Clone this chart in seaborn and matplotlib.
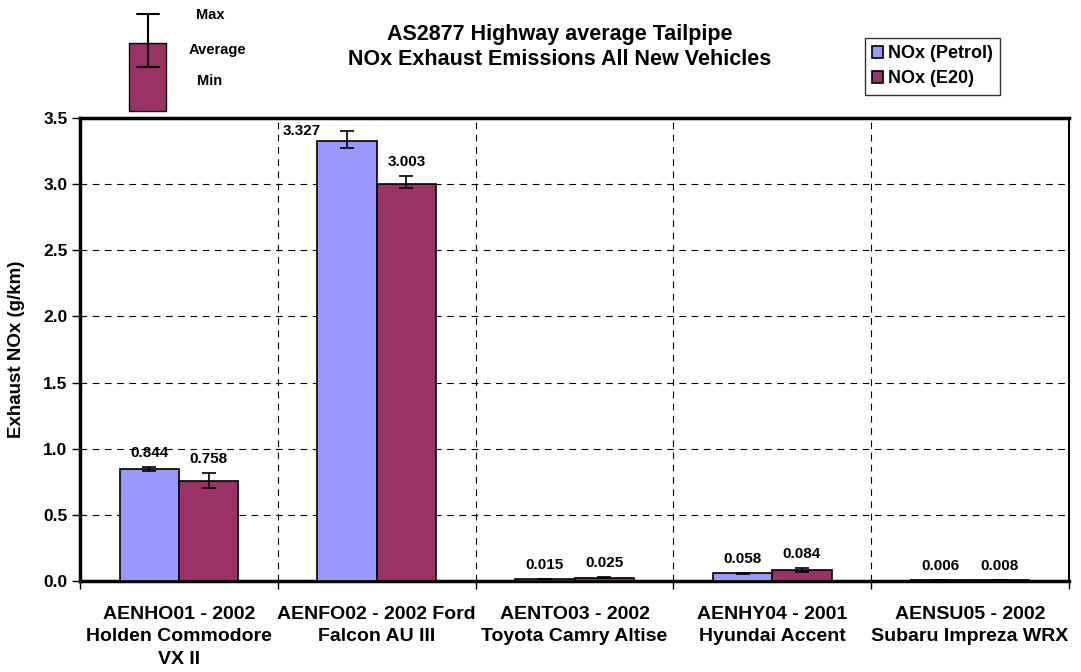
import numpy as np
import pandas as pd
import matplotlib.pyplot as plt
import seaborn as sns
from matplotlib.patches import Rectangle

# data
vehicles = ['AENHO01 - 2002\nHolden Commodore\nVX II',
            'AENFO02 - 2002 Ford\nFalcon AU III',
            'AENTO03 - 2002\nToyota Camry Altise',
            'AENHY04 - 2001\nHyundai Accent',
            'AENSU05 - 2002\nSubaru Impreza WRX']
fuels = ['NOx (Petrol)', 'NOx (E20)']
petrol_avg = [0.844, 3.327, 0.015, 0.058, 0.006]
petrol_min = [0.828, 3.275, 0.012, 0.054, 0.005]
petrol_max = [0.863, 3.404, 0.018, 0.062, 0.007]
e20_avg = [0.758, 3.003, 0.025, 0.084, 0.008]
e20_min = [0.704, 2.969, 0.019, 0.071, 0.007]
e20_max = [0.818, 3.060, 0.033, 0.098, 0.009]

colors = ['#9999FF', '#993366']

df = pd.DataFrame({
    'Vehicle': vehicles * 2,
    'Fuel': [fuels[0]] * 5 + [fuels[1]] * 5,
    'NOx': petrol_avg + e20_avg,
})

sns.set_style('white')
plt.rcParams['font.family'] = ['Liberation Sans', 'DejaVu Sans']
plt.rcParams['font.weight'] = 'bold'
for key in ['text.color', 'axes.labelcolor', 'xtick.color', 'ytick.color']:
    plt.rcParams[key] = 'black'

fig = plt.figure(figsize=(10.81, 6.72), dpi=100)
ax = fig.add_axes([80 / 1081, 1 - 581 / 672, 989 / 1081, 463 / 672])

sns.barplot(data=df, x='Vehicle', y='NOx', hue='Fuel', order=vehicles, hue_order=fuels,
            palette=colors, saturation=1, width=0.6, edgecolor='black', linewidth=1.2,
            errorbar=None, ax=ax, zorder=3)

# error bars (min / max) and value labels
mins = [petrol_min, e20_min]
maxs = [petrol_max, e20_max]
avgs = [petrol_avg, e20_avg]
bar_conts = list(ax.containers)
for k, cont in enumerate(bar_conts):
    for i, bar in enumerate(cont):
        xc = bar.get_x() + bar.get_width() / 2
        lo = avgs[k][i] - mins[k][i]
        hi = maxs[k][i] - avgs[k][i]
        ax.errorbar(xc, avgs[k][i], yerr=[[lo], [hi]], fmt='none', ecolor='black',
                    elinewidth=1.2, capsize=5, capthick=1.2, zorder=4)
        if i == 1 and k == 0:
            ax.text(xc - 0.23, 3.37, f'{avgs[k][i]:.3f}', ha='center', va='baseline',
                    fontsize=11, fontweight='bold')
        else:
            ax.annotate(f'{avgs[k][i]:.3f}', (xc, maxs[k][i]), xytext=(0, 7),
                        textcoords='offset points', ha='center', va='baseline',
                        fontsize=11, fontweight='bold')

ax.set_ylim(0, 3.5)
ax.set_xlim(-0.5, 4.5)
ax.set_yticks(np.arange(0, 3.51, 0.5))
ax.set_yticklabels([f'{v:.1f}' for v in np.arange(0, 3.51, 0.5)], fontsize=12.5, fontweight='bold')
ax.set_xticks(range(5))
ax.set_xticklabels(vehicles, fontsize=14, fontweight='bold', linespacing=1.42)
ax.tick_params(axis='x', length=0, pad=18)
ax.tick_params(axis='y', length=6, width=1, direction='out', left=True, pad=3)
ax.set_xticks(np.arange(-0.5, 4.6, 1), minor=True)
ax.tick_params(axis='x', which='minor', length=6, width=1, direction='out', bottom=True)

for y in np.arange(0.5, 3.5, 0.5):
    ax.axhline(y, color='black', linestyle=(0, (6, 5)), linewidth=0.8, zorder=1)
for x in np.arange(0.5, 4.5, 1):
    ax.axvline(x, color='black', linestyle=(0, (6, 5)), linewidth=0.8, zorder=1)

for side in ['left', 'bottom', 'top']:
    ax.spines[side].set_linewidth(2.5)
    ax.spines[side].set_color('black')
ax.spines['right'].set_linewidth(1.5)
ax.spines['right'].set_color('black')

ax.set_xlabel('')
ax.set_ylabel('Exhaust NOx (g/km)', fontsize=13.5, fontweight='bold', labelpad=13)

leg = ax.legend(loc='upper left', bbox_to_anchor=(865 / 1081, 1 - 38 / 672),
                bbox_transform=fig.transFigure, frameon=True, fancybox=False,
                edgecolor='black', fontsize=13, handlelength=0.6, handleheight=0.6,
                handletextpad=0.25, borderpad=0.4, labelspacing=0.45, borderaxespad=0)
leg.get_frame().set_linewidth(1)
for t in leg.get_texts():
    t.set_fontweight('bold')

fig.text(560 / 1081, 1 - 47 / 672,
         'AS2877 Highway average Tailpipe\nNOx Exhaust Emissions All New Vehicles',
         ha='center', va='center', fontsize=15.5, fontweight='bold', linespacing=1.3)

# key showing max / average / min
fig.patches.append(Rectangle((129 / 1081, 1 - 111 / 672), 37 / 1081, 68 / 672,
                             transform=fig.transFigure, facecolor=colors[1],
                             edgecolor='black', linewidth=1))
fig.lines.append(plt.Line2D([148 / 1081, 148 / 1081], [1 - 14 / 672, 1 - 67 / 672],
                            transform=fig.transFigure, color='black', linewidth=1.5))
for yy in [14, 67]:
    fig.lines.append(plt.Line2D([137 / 1081, 159 / 1081], [1 - yy / 672, 1 - yy / 672],
                                transform=fig.transFigure, color='black', linewidth=1.5))
fig.text(210 / 1081, 1 - 15 / 672, 'Max', ha='center', va='center', fontsize=10.5, fontweight='bold')
fig.text(217 / 1081, 1 - 50 / 672, 'Average', ha='center', va='center', fontsize=10.5, fontweight='bold')
fig.text(210 / 1081, 1 - 81 / 672, 'Min', ha='center', va='center', fontsize=10.5, fontweight='bold')

fig.savefig('out.png', dpi=100)
